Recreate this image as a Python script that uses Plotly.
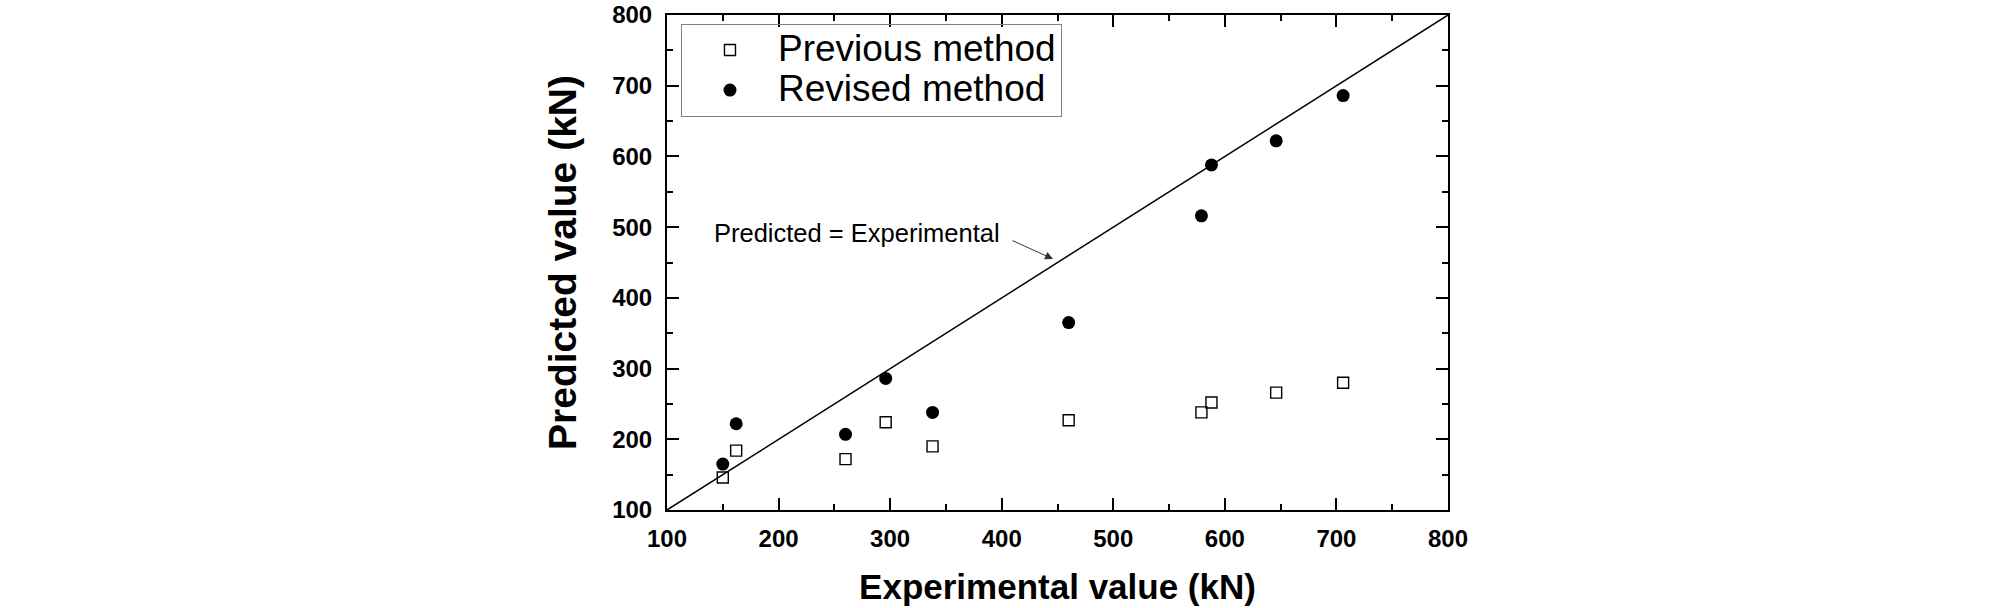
import plotly.graph_objects as go

# Data
experimental = [150, 162, 260, 296, 338, 460, 579, 588, 646, 706]
previous_method = [146, 184, 172, 224, 190, 227, 238, 252, 266, 280]
revised_method = [165, 222, 207, 286, 238, 365, 516, 588, 622, 686]
equality_line = [100, 800]
tick_values = [100, 200, 300, 400, 500, 600, 700, 800]

FONT = "Liberation Sans, Arial, sans-serif"

fig = go.Figure()

fig.add_trace(go.Scatter(
    x=equality_line, y=equality_line, mode="lines",
    line=dict(color="black", width=1.5), showlegend=False, hoverinfo="skip"))

fig.add_trace(go.Scatter(
    x=experimental, y=previous_method, mode="markers",
    name='<span style="font-size:37px">Previous method</span>',
    marker=dict(symbol="square-open", size=11, color="black",
                line=dict(width=1.4, color="black"))))

fig.add_trace(go.Scatter(
    x=experimental, y=revised_method, mode="markers",
    name='<span style="font-size:37px">Revised method</span>',
    marker=dict(symbol="circle", size=13, color="black",
                line=dict(width=0))))

axis_common = dict(
    range=[100, 800], tickvals=tick_values, ticktext=[str(v) for v in tick_values],
    showline=True, linecolor="black", linewidth=2, mirror="ticks",
    ticks="inside", ticklen=12, tickwidth=2, tickcolor="black",
    minor=dict(ticks="inside", ticklen=6, tickwidth=2, tickcolor="black", dtick=50),
    showgrid=False, zeroline=False,
    tickfont=dict(family=FONT, size=24, color="black", weight="bold"),
)

fig.update_xaxes(**axis_common, ticklabelstandoff=6,
                 title=dict(text="Experimental value (kN)", standoff=24,
                            font=dict(family=FONT, size=35, color="black", weight="bold")))
fig.update_yaxes(**axis_common, ticklabelstandoff=8,
                 title=dict(text="Predicted value (kN)", standoff=24,
                            font=dict(family=FONT, size=39, color="black", weight="bold")))

fig.add_annotation(x=140.3, y=492, xref="x", yref="y", text="Predicted = Experimental",
                   showarrow=False, xanchor="left", yanchor="middle",
                   font=dict(family=FONT, size=25.5, color="black"))
fig.add_annotation(x=446, y=455, xref="x", yref="y", text="",
                   showarrow=True, ax=-42, ay=-19, arrowhead=2, arrowsize=1.6,
                   arrowwidth=1, arrowcolor="#333333")

fig.update_layout(
    width=2008, height=608,
    margin=dict(l=667, r=560, t=15, b=98, autoexpand=False),
    paper_bgcolor="white", plot_bgcolor="white",
    showlegend=True,
    legend=dict(x=0.0179, y=0.9818, xanchor="left", yanchor="top",
                bgcolor="rgba(255,255,255,0)", bordercolor="#808080", borderwidth=1,
                font=dict(family=FONT, size=28.5, color="black"),
                itemwidth=86, tracegroupgap=0),
)

fig.write_html("out.html")
